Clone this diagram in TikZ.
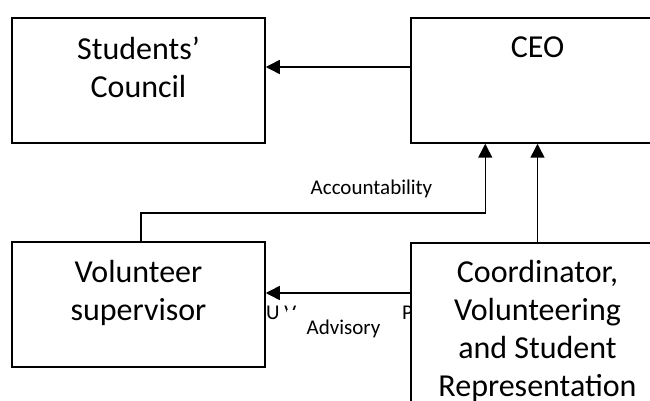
\documentclass[tikz,border=0pt]{standalone}
\usepackage{fontspec}
\setmainfont{Carlito}
\usetikzlibrary{arrows.meta,positioning}
\tikzset{>={Triangle[length=14pt,width=14pt]},
  unit/.style={draw,fill=white,line width=1.5pt,minimum width=253pt,
    minimum height=125pt,inner sep=0pt},
  unitname/.style={font=\fontsize{32}{38}\selectfont,align=center,
    inner sep=0pt,anchor=north},
  linkname/.style={font=\fontsize{21}{25}\selectfont,inner sep=0pt},
  link/.style={draw,line width=1.5pt,->}}

\begin{document}
\begin{tikzpicture}[x=1pt,y=1pt]
    \useasboundingbox (0,0) rectangle (650,401);
    \clip (0,0) rectangle (650,401);

    \node[linkname,anchor=base west] (clippedu) at (266,81) {U V};
    \node[linkname,anchor=base west] (clippedp) at (402,81) {P};

    \node[unit] (council) at (138.5,320.5) {};
    \node[unit] (ceo) at (537.5,320.5) {};
    \node[unit] (volunteer) at (138.5,96.5) {};
    \node[unit,minimum height=190pt] (coordinator) at (537.5,63) {};

    \node[unitname] (councilname) at ([yshift=-19pt]council.north) {Students’\\Council};
    \node[unitname] (ceoname) at ([yshift=-19pt]ceo.north) {CEO};
    \node[unitname] (volunteername) at ([yshift=-19pt]volunteer.north) {Volunteer\\supervisor};
    \node[unitname] (coordinatorname) at ([yshift=-18pt]coordinator.north)
      {Coordinator,\\Volunteering\\and Student\\Representation};

    \draw[link] ([yshift=13.5pt]ceo.west) -- ([yshift=13.5pt]council.east);
    \draw[link] ([xshift=2.5pt]volunteer.north) -- ++(0,28) -| ([xshift=75pt]ceo.south west);
    \draw[link] (coordinator.north) -- (ceo.south);
    \coordinate (advisory) at ([yshift=11.5pt]volunteer.east);
    \draw[link] (advisory -| coordinator.west) -- (advisory);

    \node[linkname,anchor=base] (accountability) at (371.5,206) {Accountability};
    \node[linkname,fill=white,minimum width=113pt,minimum height=38pt] (advisoryname)
      at (343.5,72) {Advisory};
\end{tikzpicture}
\end{document}
